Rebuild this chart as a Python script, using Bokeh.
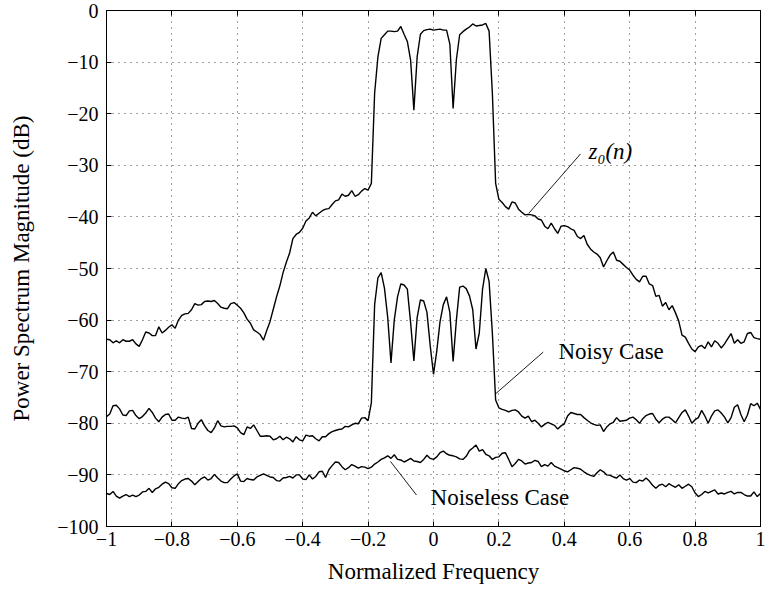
import numpy as np
from bokeh.plotting import figure
from bokeh.models import Label, LinearAxis, FixedTicker, Range1d, ColumnDataSource
from bokeh.embed import file_html
from bokeh.resources import INLINE

# ---------------- data ----------------
freq = np.round(np.linspace(-1.0, 1.0, 201), 2)

z0 = [
    -63.7, -63.8, -64.4, -64.0, -64.4, -63.8, -64.1, -64.1, -63.8, -64.6,
    -65.1, -63.8, -62.3, -62.5, -63.0, -63.0, -61.3, -62.5, -62.0, -61.4,
    -60.9, -61.6, -60.0, -59.1, -58.8, -58.7, -58.0, -56.8, -57.1, -57.0,
    -56.4, -56.3, -56.4, -56.2, -56.8, -57.5, -57.7, -57.8, -56.8, -56.6,
    -57.1, -57.7, -58.6, -59.8, -60.6, -61.9, -62.3, -62.8, -63.9, -62.0,
    -60.3, -57.9, -55.5, -53.4, -50.8, -48.8, -47.0, -44.2, -43.4, -43.0,
    -42.2, -40.8, -40.2, -39.1, -39.8, -39.3, -38.8, -38.5, -38.4, -37.6,
    -36.9, -36.7, -35.6, -36.0, -35.8, -34.9, -36.0, -35.7, -35.0, -34.5,
    -34.8, -33.5, -16.0, -9.0, -5.4, -4.7, -4.0, -4.0, -4.1, -4.0,
    -3.1, -4.6, -6.0, -9.6, -19.3, -9.0, -4.6, -3.9, -3.7, -3.6,
    -3.8, -3.7, -3.6, -3.8, -3.8, -6.5, -19.0, -9.5, -4.7, -4.1,
    -3.6, -3.2, -2.6, -3.0, -2.9, -2.8, -2.5, -4.0, -16.0, -33.5,
    -36.6, -37.2, -38.0, -38.5, -37.1, -37.3, -38.5, -39.1, -39.6, -39.5,
    -39.6, -39.8, -40.4, -40.6, -41.8, -42.3, -41.2, -42.3, -43.2, -41.8,
    -41.7, -41.9, -42.3, -42.6, -43.8, -44.2, -43.6, -45.3, -46.2, -46.8,
    -47.2, -47.9, -49.7, -48.5, -47.4, -46.8, -48.4, -48.6, -49.2, -49.8,
    -50.3, -51.3, -52.1, -52.6, -51.5, -51.5, -53.0, -53.3, -55.4, -55.2,
    -57.3, -56.6, -58.0, -57.2, -58.6, -60.2, -62.9, -63.3, -64.5, -65.6,
    -66.1, -65.2, -64.9, -65.5, -64.2, -65.2, -64.0, -64.5, -65.4, -64.6,
    -63.6, -62.6, -64.5, -63.8, -64.5, -64.2, -62.6, -62.4, -63.4, -63.6,
    -63.7,
]

noisy = [
    -78.7, -78.2, -76.6, -76.5, -77.2, -78.4, -78.5, -77.6, -77.5, -78.5,
    -79.1, -78.7, -78.0, -77.1, -77.9, -79.0, -79.7, -78.8, -78.3, -78.2,
    -79.4, -79.4, -78.8, -79.0, -79.1, -78.8, -81.0, -81.1, -80.0, -79.3,
    -80.5, -81.4, -81.8, -80.9, -79.5, -80.5, -80.7, -80.6, -80.6, -80.5,
    -80.9, -81.8, -82.2, -80.7, -81.0, -80.3, -81.4, -82.5, -82.5, -82.4,
    -82.5, -83.2, -83.0, -82.5, -83.2, -82.7, -83.0, -83.6, -82.6, -83.2,
    -83.4, -82.3, -82.5, -82.4, -83.0, -83.4, -82.6, -82.6, -82.0, -81.6,
    -81.4, -81.2, -81.1, -80.6, -80.7, -80.3, -80.0, -80.1, -79.0, -78.9,
    -79.5, -76.0, -57.0, -51.8, -50.8, -53.8, -59.5, -68.3, -60.0, -55.5,
    -53.0, -53.2, -54.0, -60.5, -67.9, -59.5, -56.1, -56.3, -58.5, -65.0,
    -70.5, -66.0, -60.3, -57.0, -55.5, -58.5, -68.0, -60.0, -53.6, -53.4,
    -53.9, -55.3, -58.0, -65.6, -62.5, -54.0, -50.0, -52.5, -62.5, -75.5,
    -77.0, -77.3, -77.5, -77.8, -77.5, -77.4, -77.8, -78.6, -79.0, -78.6,
    -79.7, -79.4, -80.0, -80.7, -80.2, -79.8, -80.1, -80.4, -81.1, -80.5,
    -80.1, -78.6, -77.9, -78.1, -78.3, -78.3, -78.9, -79.4, -79.9, -80.2,
    -80.4, -80.3, -81.6, -80.7, -80.1, -79.8, -78.9, -79.6, -79.5, -79.4,
    -79.0, -78.8, -79.3, -80.0, -79.1, -78.5, -78.2, -78.1, -79.2, -79.9,
    -79.2, -78.8, -78.8, -79.3, -79.9, -78.9, -77.9, -77.4, -78.6, -80.0,
    -79.3, -78.9, -77.5, -78.6, -80.0, -78.6, -77.6, -77.4, -78.0, -78.8,
    -79.9, -78.9, -76.9, -76.4, -78.3, -79.7, -78.4, -76.2, -76.6, -76.1,
    -77.3,
]

noiseless = [
    -93.6, -93.8, -93.2, -94.1, -94.5, -94.1, -93.8, -94.2, -93.9, -94.2,
    -93.9, -93.3, -93.2, -92.6, -93.4, -92.7, -92.4, -91.8, -91.4, -91.7,
    -92.5, -92.6, -91.7, -91.1, -90.8, -90.7, -91.2, -91.9, -91.3, -90.7,
    -90.4, -91.0, -90.7, -89.9, -90.6, -91.2, -91.5, -91.5, -90.8, -90.2,
    -89.8, -91.2, -91.3, -90.7, -90.9, -91.0, -90.4, -90.1, -89.8, -90.1,
    -90.4, -90.5, -91.1, -91.2, -90.6, -90.5, -90.3, -90.6, -90.0, -90.0,
    -90.8, -90.9, -90.0, -90.8, -90.3, -89.4, -89.3, -90.5, -89.0, -88.2,
    -87.5, -87.6, -88.4, -89.0, -88.6, -88.0, -88.3, -88.7, -88.4, -88.5,
    -88.8, -88.5, -87.9, -87.5, -87.0, -86.7, -86.3, -86.8, -86.1, -87.0,
    -87.1, -87.5, -87.2, -86.8, -87.3, -87.4, -87.6, -87.0, -86.2, -86.8,
    -87.0, -86.5, -85.7, -85.4, -85.9, -86.2, -86.3, -86.5, -86.9, -87.0,
    -86.4, -85.3, -84.8, -84.2, -85.4, -85.1, -86.0, -86.3, -87.0, -86.6,
    -86.5, -85.8, -85.7, -87.0, -88.4, -87.8, -87.0, -87.3, -87.9, -87.7,
    -87.6, -87.2, -87.4, -88.4, -88.0, -88.3, -87.6, -88.3, -88.6, -88.9,
    -89.2, -89.4, -89.0, -88.6, -88.7, -88.9, -89.4, -89.8, -90.1, -90.3,
    -89.6, -89.0, -89.4, -90.0, -90.1, -90.4, -90.6, -90.0, -90.7, -91.0,
    -90.7, -91.4, -91.5, -91.0, -91.2, -90.6, -91.2, -92.0, -92.6, -92.0,
    -91.8, -92.3, -91.7, -92.1, -92.4, -91.9, -92.6, -92.2, -91.8, -92.3,
    -93.5, -94.2, -93.8, -93.2, -93.5, -93.2, -92.9, -93.7, -93.5, -93.7,
    -93.4, -93.2, -93.7, -93.4, -93.4, -93.8, -94.1, -94.1, -93.3, -94.2,
    -93.6,
]

x_ticks = [-1.0, -0.8, -0.6, -0.4, -0.2, 0.0, 0.2, 0.4, 0.6, 0.8, 1.0]
x_tick_labels = ["\u22121", "\u22120.8", "\u22120.6", "\u22120.4", "\u22120.2",
                 "0", "0.2", "0.4", "0.6", "0.8", "1"]
y_ticks = [0, -10, -20, -30, -40, -50, -60, -70, -80, -90, -100]
y_tick_labels = ["0", "\u221210", "\u221220", "\u221230", "\u221240", "\u221250",
                 "\u221260", "\u221270", "\u221280", "\u221290", "\u2212100"]

# annotation texts and leader lines (text x, text y, line x0, y0, x1, y1)
annot_text = ["z\u2080(n)", "Noisy Case", "Noiseless Case"]
annot_pos = [(0.474, -27.3), (0.382, -66.1), (-0.009, -94.4)]
annot_lines = [(0.4495, -27.8, 0.2914, -39.3),
               (0.3355, -66.2, 0.1896, -74.3),
               (-0.1315, -87.4, -0.052, -93.9)]

# ---------------- figure ----------------
FONT = "Liberation Serif"
TICK_SIZE = "20px"
LABEL_SIZE = "23px"
ANNOT_SIZE = "23px"

p = figure(width=765, height=590, output_backend="svg", toolbar_location=None,
           x_range=Range1d(-1, 1), y_range=Range1d(-100, 0),
           x_axis_location=None, y_axis_location=None,
           min_border_left=106, min_border_right=5, min_border_top=10,
           min_border_bottom=64)
p.background_fill_color = "white"
p.border_fill_color = "white"
p.outline_line_color = "black"
p.outline_line_width = 1

src = ColumnDataSource(dict(f=freq, z0=z0, noisy=noisy, clean=noiseless))
for col in ["z0", "noisy", "clean"]:
    p.line("f", col, source=src, line_color="black", line_width=1.4)

# annotations lines
p.segment(x0=[a[0] for a in annot_lines], y0=[a[1] for a in annot_lines],
          x1=[a[2] for a in annot_lines], y1=[a[3] for a in annot_lines],
          line_color="black", line_width=0.9)

for txt, (tx, ty), style in zip(annot_text, annot_pos, ["italic", "normal", "normal"]):
    p.add_layout(Label(x=tx, y=ty, text=txt, text_font=FONT, text_font_size=ANNOT_SIZE,
                       text_font_style=style, text_baseline="middle",
                       text_align="left", text_color="black"))

# axes styling
def style_axis(ax, ticks, labels, show_labels):
    ax.ticker = FixedTicker(ticks=ticks)
    ax.major_label_overrides = {t: l for t, l in zip(ticks, labels)}
    ax.major_tick_in = 5
    ax.major_tick_out = 0
    ax.minor_tick_in = 0
    ax.minor_tick_out = 0
    ax.axis_line_color = "black"
    ax.major_tick_line_color = "black"
    ax.major_label_text_font = FONT
    ax.major_label_text_color = "black"
    if show_labels:
        ax.major_label_text_font_size = TICK_SIZE
    else:
        ax.major_label_text_font_size = "0px"
        ax.major_label_standoff = 0

bottom_axis = LinearAxis(axis_label="Normalized Frequency")
left_axis = LinearAxis(axis_label="Power Spectrum Magnitude (dB)")
top_axis = LinearAxis()
right_axis = LinearAxis()
p.add_layout(bottom_axis, "below")
p.add_layout(left_axis, "left")
p.add_layout(top_axis, "above")
p.add_layout(right_axis, "right")

style_axis(bottom_axis, x_ticks, x_tick_labels, True)
style_axis(left_axis, y_ticks, y_tick_labels, True)
style_axis(top_axis, x_ticks, ["" for _ in x_ticks], False)
style_axis(right_axis, y_ticks, ["" for _ in y_ticks], False)
bottom_axis.major_label_standoff = 5
left_axis.major_label_standoff = 8

for ax in (bottom_axis, left_axis):
    ax.axis_label_text_font = FONT
    ax.axis_label_text_font_size = LABEL_SIZE
    ax.axis_label_text_font_style = "normal"
    ax.axis_label_text_color = "black"
bottom_axis.axis_label_standoff = 10
left_axis.axis_label_standoff = 20

p.xgrid.ticker = FixedTicker(ticks=x_ticks)
p.ygrid.ticker = FixedTicker(ticks=y_ticks)
for g in (p.xgrid, p.ygrid):
    g.grid_line_color = "#444444"
    g.grid_line_dash = "1 5"
    g.grid_line_width = 1

open("out.html", "w").write(file_html(p, INLINE))
